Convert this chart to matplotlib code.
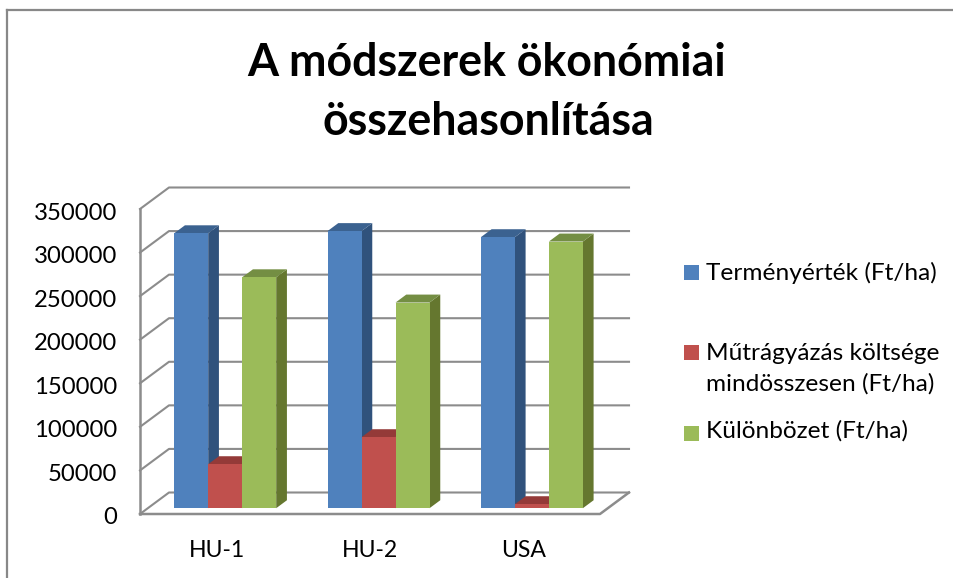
import numpy as np
import matplotlib
matplotlib.use('Agg')
import matplotlib.pyplot as plt
from matplotlib.lines import Line2D
from matplotlib.patches import Rectangle
from matplotlib.transforms import ScaledTranslation

categories = ['HU-1', 'HU-2', 'USA']
series_names = ['Terményérték (Ft/ha)',
                'Műtrágyázás költsége\nmindösszesen (Ft/ha)',
                'Különbözet (Ft/ha)']
crop_value = [315500, 318000, 311000]
fertilizer_cost = [50500, 81500, 4600]
difference = [265000, 236000, 306000]
y_ticks = [0, 50000, 100000, 150000, 200000, 250000, 300000, 350000]
title = 'A módszerek ökonómiai\nösszehasonlítása'

front_colors = ['#4F81BD', '#C0504D', '#9BBB59']
top_colors = ['#3B6290', '#943A38', '#748E43']
side_colors = ['#30527C', '#943A38', '#65772F']
grid_color = '#8C8C8C'

W, H = 954, 578
plt.rcParams['font.family'] = ['Lato', 'DejaVu Sans']


def fx(px):
    return px / W


def fy(py):
    return 1 - py / H


fig = plt.figure(figsize=(W / 100, H / 100), dpi=100, facecolor='white')

# outer chart frame, cut off by the picture on two sides
fig.add_artist(Line2D([fx(7), fx(7)], [0, fy(10)], color='#888888', lw=1.6))
fig.add_artist(Line2D([fx(7), 1], [fy(10), fy(10)], color='#888888', lw=1.6))

# axes = front plane of the fake 3d box
ax = fig.add_axes([fx(140), fy(514), fx(600) - fx(140), fy(209) - fy(514)])
ax.set_xlim(-0.5, 2.5)
ax.set_ylim(0, 350000)
for s in ax.spines.values():
    s.set_visible(False)
ax.patch.set_visible(False)

# depth offset in data units
x_per_px = 3 / 460
y_per_px = 350000 / 305
depth_x = 29 * x_per_px
depth_y = 21.5 * y_per_px


def project(x, y, d):
    return x + d * depth_x, y + d * depth_y


# walls and floor
for t in y_ticks:
    xs, ys = zip(project(-0.5, t, 0), project(-0.5, t, 1), project(2.5, t, 1))
    ax.plot(xs, ys, color=grid_color, lw=1.5, clip_on=False, zorder=1)
xs, ys = zip(project(-0.5, 0, 0), project(2.5, 0, 0), project(2.5, 0, 1))
ax.plot(xs, ys, color=grid_color, lw=1.8, clip_on=False, zorder=1)
ax.plot([-0.5, -0.5], [0, 350000], color=grid_color, lw=1.8, clip_on=False, zorder=1)

# bars
bar_w = 34 * x_per_px
bar_d0 = 0.27
bar_d1 = 0.64
values = [crop_value, fertilizer_cost, difference]
z = 2
for c in range(len(categories)):
    for s in range(3):
        v = values[s][c]
        x0 = c + (s - 1.5) * bar_w + 0.7 * x_per_px
        x1 = x0 + bar_w
        bl = project(x1, 0, bar_d0)
        tl = project(x1, v, bar_d0)
        tr = project(x1, v, bar_d1)
        br = project(x1, 0, bar_d1)
        ax.fill(*zip(bl, tl, tr, br), color=side_colors[s], lw=0, clip_on=False, zorder=z)
        a = project(x0, v, bar_d0)
        b = project(x1, v, bar_d0)
        e = project(x1, v, bar_d1)
        f = project(x0, v, bar_d1)
        ax.fill(*zip(a, b, e, f), color=top_colors[s], lw=0, clip_on=False, zorder=z)
        fx0, fy0 = project(x0, 0, bar_d0)
        ax.bar(fx0, v, width=bar_w, bottom=fy0, align='edge', color=front_colors[s],
               lw=0, clip_on=False, zorder=z + 1)
        z += 2

ax.set_xticks(range(len(categories)))
ax.set_xticklabels(categories, fontsize=16.6, color='black')
ax.set_yticks(y_ticks)
ax.set_yticklabels([str(t) for t in y_ticks], fontsize=17.2, color='black')
ax.tick_params(axis='x', length=0, pad=18.5)
ax.tick_params(axis='y', length=0, pad=16.5)
# labels sit a little below their gridline in the original
shift_down = ScaledTranslation(0, -2 / 100, fig.dpi_scale_trans)
for label in ax.get_yticklabels():
    label.set_transform(label.get_transform() + shift_down)

fig.text(fx(487), fy(63), title.split('\n')[0], fontsize=32.2, fontweight='bold',
         ha='center', va='center', color='black')
fig.text(fx(488), fy(122), title.split('\n')[1], fontsize=32.2, fontweight='bold',
         ha='center', va='center', color='black')

# legend, spacing is uneven in the original so placed by hand
legend_y = [272, 352, 433]
legend_text_y = [273, 369, 431]
for name, col, ly, ty in zip(series_names, front_colors, legend_y, legend_text_y):
    fig.add_artist(Rectangle((fx(684), fy(ly + 7.5)), 15 / W, 15 / H, color=col, lw=0))
    fig.text(fx(706), fy(ty), name, fontsize=17.6, color='black', ha='left', va='center',
             linespacing=1.5)

fig.savefig('out.png', dpi=100)
